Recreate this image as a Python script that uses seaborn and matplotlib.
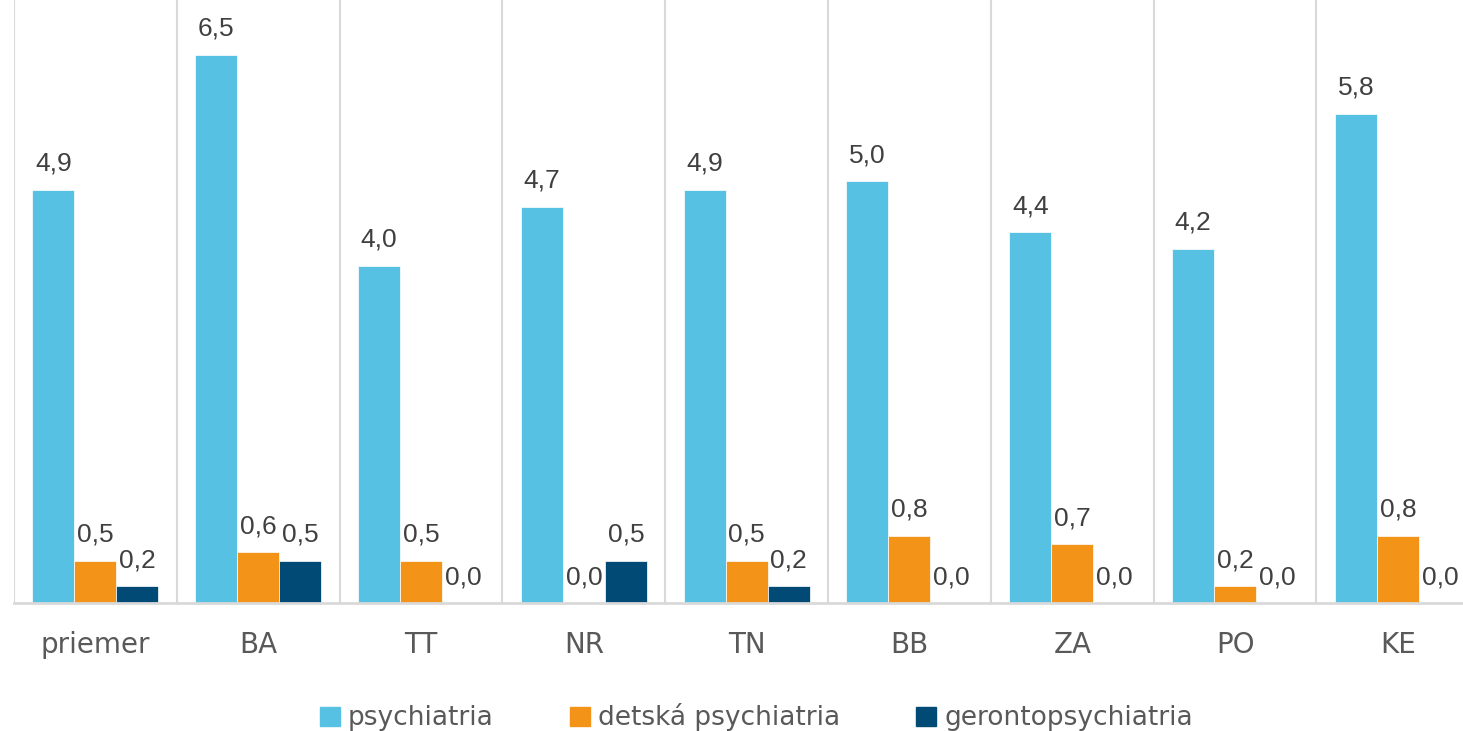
import matplotlib
matplotlib.use('Agg')
import matplotlib.pyplot as plt
import seaborn as sns
import pandas as pd

regions = ['priemer', 'BA', 'TT', 'NR', 'TN', 'BB', 'ZA', 'PO', 'KE']
series = ['psychiatria', 'detská psychiatria', 'gerontopsychiatria']
psychiatria = [4.9, 6.5, 4.0, 4.7, 4.9, 5.0, 4.4, 4.2, 5.8]
detska = [0.5, 0.6, 0.5, 0.0, 0.5, 0.8, 0.7, 0.2, 0.8]
geronto = [0.2, 0.5, 0.0, 0.5, 0.2, 0.0, 0.0, 0.0, 0.0]
colors = ['#56C1E3', '#F39419', '#004A75']

rows = []
for name, vals in zip(series, [psychiatria, detska, geronto]):
    for reg, v in zip(regions, vals):
        rows.append({'region': reg, 'typ': name, 'hodnota': v})
df = pd.DataFrame(rows)

sns.set_style('white')
plt.rcParams['font.family'] = ['Liberation Sans', 'DejaVu Sans']

fig = plt.figure(figsize=(14.63, 7.31), dpi=100)
ax = fig.add_axes([14 / 1463, 128 / 731, 1 - 14 / 1463, 1 - 128 / 731])

sns.barplot(data=df, x='region', y='hodnota', hue='typ', order=regions,
            hue_order=series, palette=colors, width=0.774, gap=0,
            errorbar=None, saturation=1, linewidth=0.5, ax=ax)

for cont in ax.containers:
    labs = [f'{b.get_height():.1f}'.replace('.', ',') for b in cont]
    ax.bar_label(cont, labels=labs, padding=10, fontsize=19, color='#404040')

ax.set_yticks([])
ax.set_xlabel('')
ax.set_ylabel('')
ax.set_xticks([i - 0.5 for i in range(len(regions) + 1)], minor=True)
# limits after the ticks, otherwise set_xticks widens them again
ax.set_xlim(-0.5, 8.4)
ax.set_ylim(0, 7.15)
ax.grid(True, which='minor', axis='x', color='#D9D9D9', lw=1.5)
ax.grid(False, which='major')
ax.tick_params(axis='x', which='both', length=0, pad=20)
for lab in ax.get_xticklabels():
    lab.set_fontfamily(['DejaVu Sans'])
    lab.set_fontsize(20)
    lab.set_color('#595959')
for s in ['top', 'right', 'left']:
    ax.spines[s].set_visible(False)
ax.spines['bottom'].set_color('#D9D9D9')
ax.spines['bottom'].set_linewidth(2)

ax.legend_.remove()
handles = [plt.Rectangle((0, 0), 1, 1, color=c) for c in colors]
fig.legend(handles, series, loc='lower center', bbox_to_anchor=(0.517, -0.033),
           ncol=3, frameon=False, handlelength=0.75, handleheight=0.75,
           handletextpad=0.3, columnspacing=2.9,
           prop={'family': ['DejaVu Sans'], 'size': 19},
           labelcolor='#595959')

fig.savefig('out.png', dpi=100)
